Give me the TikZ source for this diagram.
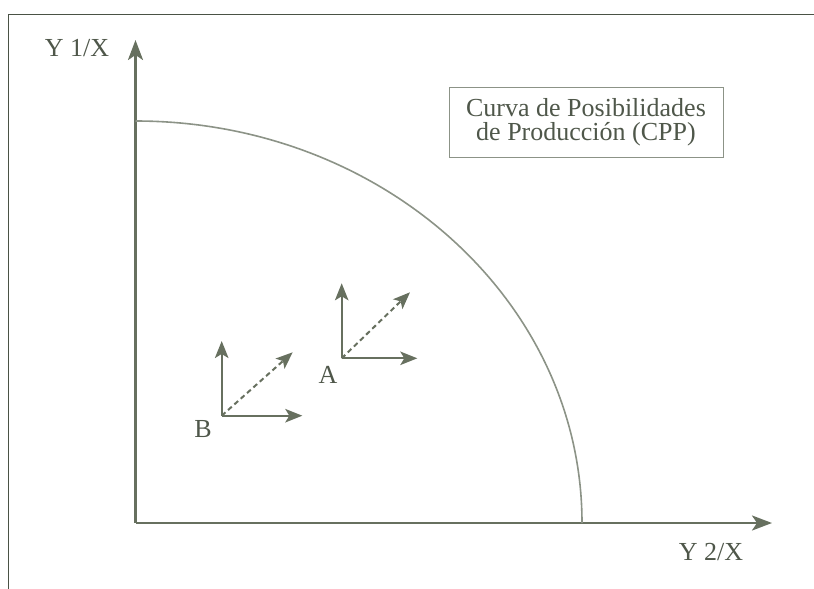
\documentclass[tikz,border=0pt]{standalone}
\usepackage{fontspec}
\setmainfont{Liberation Serif}
\usetikzlibrary{arrows.meta}
\definecolor{txt}{HTML}{4F574A}
\definecolor{axc}{HTML}{67705F}
\definecolor{crv}{HTML}{8C9387}
\definecolor{frm}{HTML}{4A5245}
\tikzset{
  axis/.style={draw=axc, line width=2.6pt, -{Stealth[length=20pt,width=15pt,inset=5pt]}},
  vec/.style={draw=axc, line width=2pt, -{Stealth[length=17pt,width=13.5pt,inset=4pt]}},
  dvec/.style={vec, dash pattern=on 5pt off 3.5pt},
  lbl/.style={text=txt, font=\fontsize{26}{24}\selectfont, inner sep=0pt},
}
\begin{document}
\begin{tikzpicture}[x=1pt,y=-1pt]
\useasboundingbox (0,0) rectangle (814,589);
% frame
\draw[frm, line width=1.4pt] (8.3,589) -- (8.3,14.7) -- (814,14.7);
% axes
\coordinate (O) at (135.5,523);
\coordinate (ytip) at (135.5,40);
\coordinate (xtip) at (772,523);
\draw[axis] (O) -- (ytip);
\draw[axis] (O) -- (xtip);
% curve
\coordinate (cs) at (135.5,121);
\coordinate (ce) at (582,523);
\draw[crv, line width=1.6pt] (cs) arc[start angle=90, end angle=0, x radius=446.5, y radius=-402];
% labels
\node[lbl] (ylab) at (77,48) {Y 1/X};
\node[lbl] (xlab) at (711,552) {Y 2/X};
\node[lbl, draw=crv, line width=0.9pt, align=center, minimum width=274pt, minimum height=70pt] (box) at (586,122) {Curva de Posibilidades\\de Producción (CPP)};
% A group
\coordinate (A0) at (341.7,358.3);
\coordinate (Au) at (341.7,283.3);
\coordinate (Ar) at (417.3,358.3);
\coordinate (Ad) at (410,292.3);
\draw[vec] (A0) -- (Au);
\draw[vec] (A0) -- (Ar);
\draw[dvec] (A0) -- (Ad);
\node[lbl] (Alab) at (328,375) {A};
% B group
\coordinate (B0) at (221.7,415.7);
\coordinate (Bu) at (221.7,341);
\coordinate (Br) at (302.3,415.7);
\coordinate (Bd) at (292.7,352.3);
\draw[vec] (B0) -- (Bu);
\draw[vec] (B0) -- (Br);
\draw[dvec] (B0) -- (Bd);
\node[lbl] (Blab) at (203,429) {B};
\end{tikzpicture}
\end{document}
